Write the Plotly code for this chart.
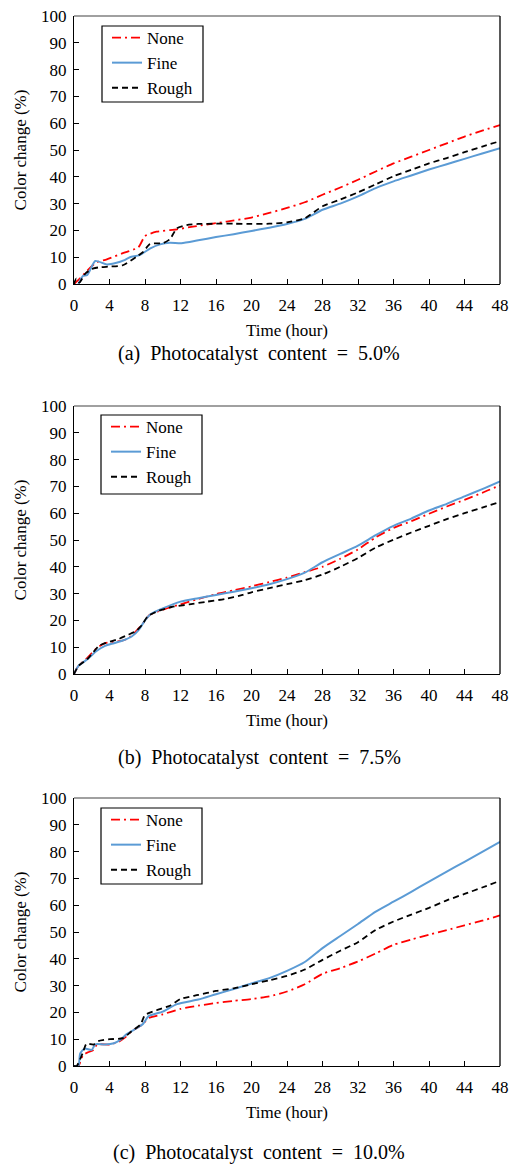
import plotly.graph_objects as go

# ---------------- data ----------------
# (a) Photocatalyst content = 5.0%
t_a_none = [0, 0.5, 1.5, 2.5, 3.7, 5.5, 7.25, 8.0, 9.3, 11.6, 13.4, 17.2, 20, 22, 24, 26, 28, 30, 32, 34, 36, 38, 40, 42, 44, 46, 48]
v_a_none = [0, 1.5, 5, 8.0, 9.2, 11.5, 13.7, 17.9, 19.5, 20.4, 21.4, 23.3, 24.8, 26.5, 28.4, 30.5, 33.3, 36, 38.9, 42, 45, 47.5, 50, 52.5, 55, 57.2, 59.3]
t_a_fine = [0.5, 1.0, 1.5, 2.4, 3.7, 4.8, 5.6, 6.3, 7.4, 8.6, 9.7, 10.8, 12.1, 14, 16, 18, 20, 22, 24, 26, 28, 30, 32, 34, 36, 38, 40, 42, 44, 46, 48]
v_a_fine = [0, 3, 3.4, 8.6, 7.3, 7.9, 8.8, 10.0, 10.8, 13.3, 14.8, 15.4, 15.2, 16.3, 17.5, 18.6, 19.8, 21, 22.4, 24.3, 27.7, 30, 32.7, 35.8, 38.3, 40.5, 42.7, 44.7, 46.7, 48.7, 50.7]
t_a_rough = [0, 0.25, 0.6, 1.3, 2.2, 3, 4.06, 5.5, 7.06, 7.8, 8.56, 10.06, 10.8, 11.6, 12.7, 14, 16, 18, 20, 22, 24, 26, 28, 30, 32, 34, 36, 38, 40, 42, 44, 46, 48]
v_a_rough = [0, 2, 0.5, 4, 5.8, 6.3, 6.5, 7, 10.2, 12, 14.9, 15.3, 16.7, 20.8, 22, 22.4, 22.5, 22.5, 22.4, 22.5, 23, 24.5, 29, 31.5, 34.2, 37.2, 40.2, 42.6, 45, 47, 49.2, 51.3, 53.3]

# (b) Photocatalyst content = 7.5%
t_b_none = [0, 0.5, 1.5, 2.5, 3.5, 4.5, 5.5, 6.2, 7, 7.8, 8.5, 10, 12, 14, 16, 18, 20, 22, 24, 26, 28, 30, 32, 34, 36, 38, 40, 42, 44, 46, 48]
v_b_none = [0, 3, 6, 9.5, 11.5, 12, 12.5, 13.5, 16, 19, 22, 24, 26, 28, 29.8, 31.2, 32.7, 34.3, 36, 38, 40, 43, 46.5, 51, 54.5, 57, 59.8, 62.5, 65, 67.6, 70.4]
t_b_fine = [0, 0.5, 1.5, 2.5, 3.5, 4.5, 5.5, 6.5, 7.3, 8, 8.7, 10, 12, 14, 16, 18, 20, 22, 24, 26, 28, 30, 32, 34, 36, 38, 40, 42, 44, 46, 48]
v_b_fine = [0, 3, 5.5, 8.5, 10.5, 11.5, 12.5, 14, 16.5, 20, 22.5, 24.5, 27, 28.3, 29.5, 30.7, 32, 33.5, 35.4, 37.8, 41.7, 44.8, 47.9, 51.8, 55.3, 58, 61, 63.5, 66.3, 69, 71.9]
t_b_rough = [0, 0.5, 1.5, 2.8, 3.5, 5, 6, 7, 7.7, 8.3, 9.5, 11, 13, 15, 17, 19, 20, 22, 24, 26, 28, 30, 32, 34, 36, 38, 40, 42, 44, 46, 48]
v_b_rough = [0, 3, 5.5, 10.5, 11.5, 13, 14.5, 16, 18.5, 21.5, 23.5, 25, 26, 27, 28, 29.5, 30.5, 32, 33.5, 35, 37.1, 40, 43.3, 47.2, 50.1, 52.8, 55.3, 57.8, 60, 62.1, 64.2]

# (c) Photocatalyst content = 10.0%
t_c_none = [0, 0.5, 1, 1.5, 2.2, 2.6, 4, 5, 5.7, 6.5, 7.5, 8.5, 10, 12, 14, 16, 18, 20, 22, 24, 26, 28, 30, 32, 34, 36, 38, 40, 42, 44, 46, 48]
v_c_none = [0, 0, 4, 5, 6, 8, 8, 9, 10.5, 13, 15, 18, 19.3, 21.3, 22.5, 23.5, 24.3, 25, 26, 27.8, 30.5, 34.4, 36.5, 39, 42, 45.2, 47.2, 49, 50.7, 52.5, 54.2, 56.2]
t_c_fine = [0, 0.5, 0.7, 1.2, 2, 2.4, 3.5, 4.5, 5.2, 5.9, 7, 7.8, 8.4, 10, 11.6, 14, 16, 18, 20, 22, 24, 26, 28, 30, 32, 34, 36, 38, 40, 42, 44, 46, 48]
v_c_fine = [0, 0, 4.7, 6.5, 6, 8.1, 8, 8.5, 9.7, 11.8, 14, 15.8, 18.6, 20.3, 23.1, 24.8, 26.8, 28.7, 30.8, 32.8, 35.5, 38.8, 44, 48.5, 53, 57.6, 61.3, 65, 68.8, 72.5, 76.2, 79.9, 83.6]
t_c_rough = [0, 0.3, 1, 1.4, 2.2, 2.74, 4.06, 5.5, 6.5, 7.5, 8.0, 9.3, 10.8, 12, 14, 16, 18, 20, 22, 24, 26, 28, 30, 32, 34, 36, 38, 40, 42, 44, 46, 48]
v_c_rough = [0, 0, 5, 8.3, 8, 9.3, 10.0, 10.4, 13, 15.5, 19.0, 20.8, 22.5, 25, 26.5, 28, 29, 30.5, 32, 33.6, 36, 39.6, 43, 46.2, 50.8, 53.9, 56.5, 59, 61.8, 64.2, 66.6, 69.1]

series_names = ["None", "Fine", "Rough"]
captions = ["(a)  Photocatalyst  content  =  5.0%",
            "(b)  Photocatalyst  content  =  7.5%",
            "(c)  Photocatalyst  content  =  10.0%"]
x_ticks = list(range(0, 49, 4))
y_ticks = list(range(0, 101, 10))

panels = [
    [(t_a_none, v_a_none), (t_a_fine, v_a_fine), (t_a_rough, v_a_rough)],
    [(t_b_none, v_b_none), (t_b_fine, v_b_fine), (t_b_rough, v_b_rough)],
    [(t_c_none, v_c_none), (t_c_fine, v_c_fine), (t_c_rough, v_c_rough)],
]

# ---------------- style ----------------
OFF = 8                      # default page body margin (top/left)
W, H = 517 - OFF, 1164 - OFF
FONT = "Liberation Serif"
styles = [
    dict(color="#FF0000", width=1.8, dash="9px,4px,2px,4px"),
    dict(color="#5B9BD5", width=2.0, dash="solid"),
    dict(color="#000000", width=1.8, dash="6px,4px"),
]


def px_x(p):
    return (p - OFF) / W


def px_y(p):
    return 1 - (p - OFF) / H


x_left, x_right = 74, 500
panel_px = [(16, 284), (406, 674), (798, 1066)]
legend_box = [(102, 26, 203, 102), (101, 415, 202, 494), (101, 808, 202, 884)]
caption_y = [353, 757, 1152]
caption_x = 259

fig = go.Figure()
layout = dict(
    width=W, height=H,
    margin=dict(l=0, r=0, t=0, b=0, autoexpand=False),
    paper_bgcolor="white", plot_bgcolor="white",
    font=dict(family=FONT, size=17, color="black"),
    showlegend=True,
    shapes=[], annotations=[],
)

for i, panel in enumerate(panels):
    k = "" if i == 0 else str(i + 1)
    xa, ya = "x" + k, "y" + k
    lg = "legend" + k
    for j, (tt, vv) in enumerate(panel):
        fig.add_trace(go.Scatter(
            x=tt, y=vv, mode="lines", name=series_names[j],
            line=dict(shape="spline", smoothing=0.6, **styles[j]),
            xaxis=xa, yaxis=ya, legend=lg, showlegend=True,
        ))
    top, bot = panel_px[i]
    layout["xaxis" + k] = dict(
        domain=[px_x(x_left), px_x(x_right)], anchor=ya, automargin=False,
        range=[0, 48], tickvals=x_ticks, ticks="inside", ticklen=5,
        tickcolor="black", showline=True, linecolor="black", linewidth=1.3,
        showgrid=False, zeroline=False, ticklabelstandoff=5,
        ticklabeloverflow="allow",
        tickfont=dict(family=FONT, size=17, color="black"),
        title=dict(text="Time (hour)", font=dict(family=FONT, size=17, color="black"), standoff=10),
    )
    layout["yaxis" + k] = dict(
        domain=[px_y(bot), px_y(top)], anchor=xa, automargin=False,
        range=[0, 100], tickvals=y_ticks, ticks="inside", ticklen=5,
        tickcolor="black", showline=True, linecolor="black", linewidth=1.3,
        showgrid=False, zeroline=False, ticklabelstandoff=3,
        ticklabeloverflow="allow",
        tickfont=dict(family=FONT, size=17, color="black"),
        title=dict(text="Color change (%)", font=dict(family=FONT, size=17, color="black"), standoff=10),
    )
    bx0, by0, bx1, by1 = legend_box[i]
    layout[lg] = dict(
        x=px_x(bx0 + 5), y=px_y(by0 - 6), xanchor="left", yanchor="top",
        xref="paper", yref="paper",
        bgcolor="rgba(0,0,0,0)", borderwidth=0,
        font=dict(family=FONT, size=17, color="black"),
        itemwidth=30, tracegroupgap=0,
    )
    layout["shapes"] += [
        dict(type="line", xref=xa + " domain", yref=ya + " domain",
             x0=0, x1=1, y0=1, y1=1, line=dict(color="#808080", width=1.3)),
        dict(type="line", xref=xa + " domain", yref=ya + " domain",
             x0=1, x1=1, y0=0, y1=1, line=dict(color="black", width=1.3)),
        dict(type="rect", xref="paper", yref="paper", layer="above",
             x0=px_x(bx0), x1=px_x(bx1), y0=px_y(by1), y1=px_y(by0),
             fillcolor="white", line=dict(color="black", width=1.2)),
    ]
    layout["annotations"].append(dict(
        text=captions[i], xref="paper", yref="paper",
        x=px_x(caption_x), y=px_y(caption_y[i]), xanchor="center", yanchor="middle",
        showarrow=False, font=dict(family=FONT, size=20, color="black"),
    ))

fig.update_layout(**layout)
fig.write_html("out.html")
